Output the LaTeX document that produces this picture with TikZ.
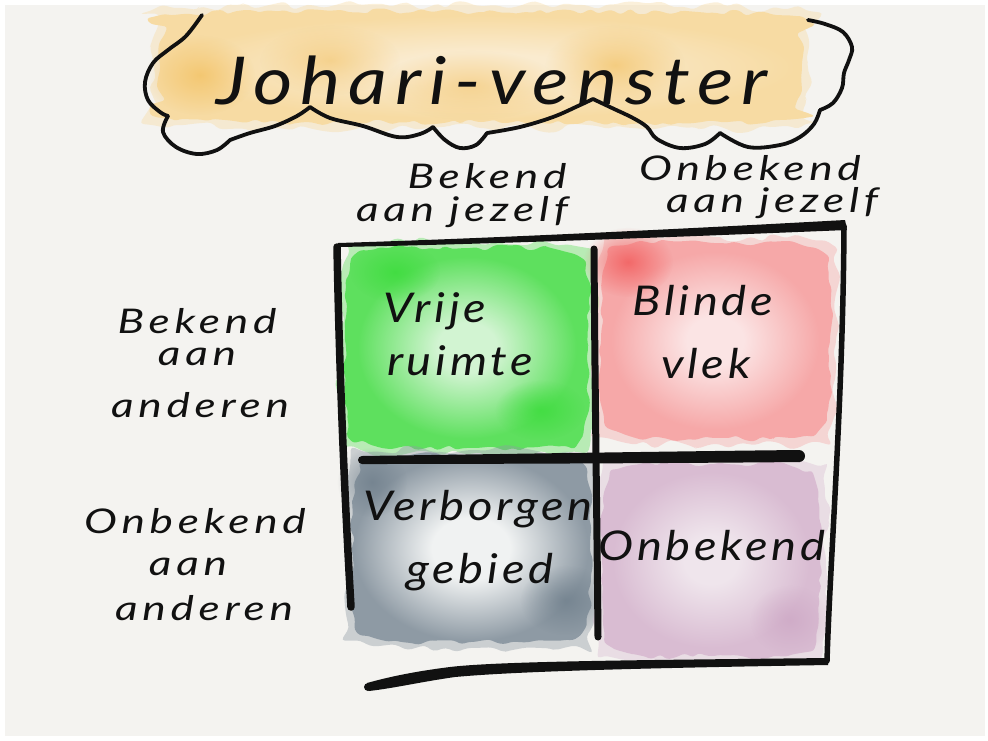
\documentclass[tikz,border=0pt]{standalone}
\usepackage{fontspec}
\usetikzlibrary{decorations.pathmorphing,fadings}
\newfontfamily\handT[FakeStretch=1.15,LetterSpace=12]{Lato}
\newfontfamily\handH[FakeStretch=1.3,LetterSpace=14]{Lato}
\newfontfamily\handC[FakeStretch=1.15,LetterSpace=9]{Lato}
\definecolor{canvas}{HTML}{F4F3F0}
\definecolor{inkc}{HTML}{111111}
\definecolor{oO}{HTML}{F7DBA3}\definecolor{oI}{HTML}{FAEBCF}\definecolor{oD}{HTML}{F3C264}
\definecolor{gO}{HTML}{5EE05E}\definecolor{gI}{HTML}{D2F4D2}\definecolor{gD}{HTML}{3CDC3C}
\definecolor{rO}{HTML}{F6A8A8}\definecolor{rI}{HTML}{FBE4E4}\definecolor{rD}{HTML}{F25E5E}
\definecolor{sO}{HTML}{8E9AA4}\definecolor{sI}{HTML}{F0F2F2}\definecolor{sD}{HTML}{6C7C89}
\definecolor{pO}{HTML}{D9BCD2}\definecolor{pI}{HTML}{EFE5EC}\definecolor{pD}{HTML}{CCA6C4}
\pgfdeclareradialshading{washO}{\pgfpoint{0bp}{0bp}}{color(0bp)=(oI); color(6bp)=(oI); color(22bp)=(oO); color(50bp)=(oO)}
\pgfdeclareradialshading{washG}{\pgfpoint{0bp}{0bp}}{color(0bp)=(gI); color(6bp)=(gI); color(22bp)=(gO); color(50bp)=(gO)}
\pgfdeclareradialshading{washR}{\pgfpoint{0bp}{0bp}}{color(0bp)=(rI); color(6bp)=(rI); color(22bp)=(rO); color(50bp)=(rO)}
\pgfdeclareradialshading{washS}{\pgfpoint{0bp}{0bp}}{color(0bp)=(sI); color(8bp)=(sI); color(24bp)=(sO); color(50bp)=(sO)}
\pgfdeclareradialshading{washP}{\pgfpoint{0bp}{0bp}}{color(0bp)=(pI); color(6bp)=(pI); color(22bp)=(pO); color(50bp)=(pO)}
\tikzfading[name=softspot, inner color=transparent!0, outer color=transparent!100]
% watercolour wash: x1 y1 x2 y2 rimcolour shading
\newcommand\wash[6]{%
  \fill[#5, opacity=.4, wobrim] plot[smooth cycle, tension=.7] coordinates {(#1+16,#2-6) (#1/2+#3/2,#2-8) (#3-16,#2-5) (#3+6,#2+16) (#3+8,#2/2+#4/2) (#3+5,#4-16) (#3-16,#4+6) (#1/2+#3/2,#4+8) (#1+16,#4+5) (#1-6,#4-16) (#1-8,#2/2+#4/2) (#1-5,#2+16)};
  \shade[shading=#6, wob] plot[smooth cycle, tension=.7] coordinates {(#1+24,#2) (#1/2+#3/2,#2-2) (#3-24,#2+1) (#3,#2+24) (#3+2,#2/2+#4/2) (#3-1,#4-24) (#3-24,#4) (#1/2+#3/2,#4+2) (#1+24,#4-1) (#1,#4-24) (#1-2,#2/2+#4/2) (#1+1,#2+24)};
}
\begin{document}
\begin{tikzpicture}[x=1pt,y=-1pt,
  wob/.style={decorate, decoration={random steps, segment length=8pt, amplitude=3pt}, rounded corners=3pt},
  wobrim/.style={decorate, decoration={random steps, segment length=11pt, amplitude=5pt}, rounded corners=4pt},
  cloudline/.style={draw=inkc, line width=3.8pt, line cap=round, line join=round},
  gridline/.style={draw=inkc, line cap=round, line join=round},
  hdr/.style={font=\handH\itshape\fontsize{34}{34}\selectfont, text=inkc, inner sep=0pt, anchor=base},
  cell/.style={font=\handC\itshape\fontsize{41}{41}\selectfont, text=inkc, inner sep=0pt, anchor=base},
  ttl/.style={font=\handT\itshape\fontsize{66}{66}\selectfont, text=inkc, inner sep=0pt, anchor=base}]
\pgfmathsetseed{7}
\useasboundingbox (0,0) rectangle (988,740);
\fill[white] (0,0) rectangle (988,740);
\fill[canvas] (5,5) rectangle (985,736);
% ---- watercolour washes
\wash{162}{14}{800}{120}{oO}{washO}
\fill[oD, path fading=softspot, opacity=.8] (200,75) ellipse (55 and 40);
\fill[oD, path fading=softspot, opacity=.55] (470,85) ellipse (90 and 35);
\fill[oD, path fading=softspot, opacity=.7] (615,65) ellipse (70 and 40);
\fill[oD, path fading=softspot, opacity=.55] (330,60) ellipse (70 and 35);
\wash{348}{250}{586}{446}{gO}{washG}
\fill[gD, path fading=softspot, opacity=.8] (395,272) ellipse (45 and 30);
\fill[gD, path fading=softspot, opacity=.8] (540,410) ellipse (45 and 30);
\wash{603}{245}{828}{436}{rO}{washR}
\fill[rD, path fading=softspot, opacity=.85] (628,262) ellipse (45 and 35);
\wash{354}{458}{588}{640}{sO}{washS}
\fill[sD, path fading=softspot, opacity=.7] (372,482) ellipse (35 and 35);
\fill[sD, path fading=softspot, opacity=.7] (565,600) ellipse (45 and 35);
\wash{604}{466}{818}{654}{pO}{washP}
\fill[pD, path fading=softspot, opacity=.7] (790,620) ellipse (40 and 35);
% ---- cloud outline
\draw[cloudline] plot[smooth, tension=.6] coordinates {(202,15) (186,36) (168,50) (153,63) (145,82) (148,100) (160,112) (168,116)};
\draw[cloudline] plot[smooth, tension=.6] coordinates {(168,116) (163,132) (176,147) (197,154) (217,150) (230,140)};
\draw[cloudline] plot[smooth, tension=.6] coordinates {(230,140) (250,133) (275,126) (297,116) (310,107)};
\draw[cloudline] plot[smooth, tension=.6] coordinates {(310,107) (330,118) (363,126) (397,137) (420,134) (433,127)};
\draw[cloudline] plot[smooth, tension=.6] coordinates {(433,127) (445,140) (460,148) (476,145) (487,133)};
\draw[cloudline] plot[smooth, tension=.6] coordinates {(487,133) (520,127) (553,117) (578,106) (593,99)};
\draw[cloudline] plot[smooth, tension=.6] coordinates {(593,99) (612,108) (633,118) (647,127) (657,139) (680,148) (705,144) (720,133)};
\draw[cloudline] plot[smooth, tension=.6] coordinates {(720,133) (748,147) (780,145) (800,137) (814,124) (820,110)};
\draw[cloudline] plot[smooth, tension=.6] coordinates {(820,110) (833,103) (842,88) (844,73) (849,60) (852,47) (843,32) (825,24) (808,20)};
% ---- grid lines
% top (tapered, thin on the left)
\fill[inkc] (338,243) .. controls (500,238) and (700,228) .. (845,220) -- (847,230) .. controls (700,236) and (500,244) .. (339,247) -- cycle;
% right
\draw[gridline, line width=5.5pt] (844,226) .. controls (843,400) and (830,560) .. (827,661);
% bottom (thick on the left)
\fill[inkc] (828,658) .. controls (650,660) and (500,661) .. (450,667) .. controls (410,672) and (385,678) .. (367,683) -- (369,691) .. controls (395,688) and (420,682) .. (455,677) .. controls (520,671) and (650,668) .. (828,665) -- cycle;
\fill[inkc] (368,687) circle (4);
% left vertical
\draw[gridline, line width=7.5pt] (337,247) .. controls (340,400) and (346,520) .. (351,607);
% middle vertical
\draw[gridline, line width=7pt] (594,249) .. controls (595,400) and (597,520) .. (598,637);
% middle horizontal
\fill[inkc] (362,456) .. controls (500,454) and (700,451) .. (799,450) -- (800,462) .. controls (700,463) and (500,464) .. (362,464) -- cycle;
\fill[inkc] (799,456) circle (6);
\fill[inkc] (362,460) circle (4);
% ---- texts
\node[ttl] (title) at (492,104) {Johari-venster};
\node[hdr] (c1a) at (487,188) {Bekend};
\node[hdr] (c1b) at (462,221) {aan jezelf};
\node[hdr] (c2a) at (750,180) {Onbekend};
\node[hdr] (c2b) at (772,212) {aan jezelf};
\node[hdr] (r1a) at (197,333) {Bekend};
\node[hdr] (r1b) at (197,365) {aan};
\node[hdr] (r1c) at (200,417) {anderen};
\node[hdr] (r2a) at (195,533) {Onbekend};
\node[hdr] (r2b) at (188,575) {aan};
\node[hdr] (r2c) at (204,620) {anderen};
\node[cell] (q1a) at (435,322) {Vrije};
\node[cell] (q1b) at (460,375) {ruimte};
\node[cell] (q2a) at (703,315) {Blinde};
\node[cell] (q2b) at (706,378) {vlek};
\node[cell] (q3a) at (478,520) {Verborgen};
\node[cell] (q3b) at (480,583) {gebied};
\node[cell] (q4) at (712,560) {Onbekend};
\end{tikzpicture}
\end{document}
